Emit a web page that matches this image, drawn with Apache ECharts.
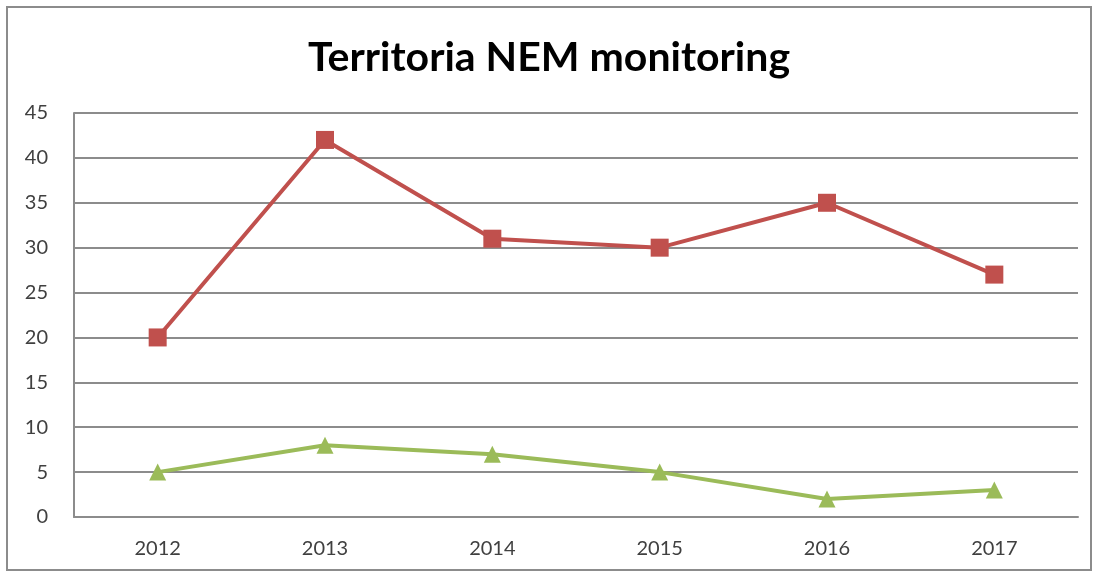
<!DOCTYPE html>
<html>
<head>
<meta charset="utf-8">
<script src="https://cdn.jsdelivr.net/npm/echarts@6/dist/echarts.min.js"></script>
<style>
  html, body { margin: 0; padding: 0; background: #fff; }
  .nemChart {
    position: absolute;
    left: 6px;
    top: 6px;
    width: 1086px;
    height: 565px;
    border: 2px solid #8c8c8c;
    box-sizing: border-box;
  }
</style>
</head>
<body>
<div class="nemChart" id="nemChart"></div>
<script>
const years = ['2012', '2013', '2014', '2015', '2016', '2017'];
const redValues = [20, 42, 31, 30, 35, 27];
const greenValues = [5, 8, 7, 5, 2, 3];

const nemChart = echarts.init(document.getElementById('nemChart'));
nemChart.setOption({
  animation: false,
  title: {
    text: 'Territoria NEM monitoring',
    left: 'center',
    top: 24,
    textStyle: {
      fontFamily: 'Lato',
      fontSize: 41,
      fontWeight: 'bold',
      color: '#000'
    }
  },
  grid: {
    left: 66,
    right: 12,
    top: 105,
    bottom: 52
  },
  xAxis: {
    type: 'category',
    data: years,
    boundaryGap: true,
    axisLine: { show: true, lineStyle: { color: '#8c8c8c', width: 2 } },
    axisTick: { show: false },
    axisLabel: {
      color: '#404040',
      fontFamily: 'Lato',
      fontSize: 20,
      margin: 22
    }
  },
  yAxis: {
    type: 'value',
    min: 0,
    max: 45,
    interval: 5,
    axisLine: { show: true, lineStyle: { color: '#8c8c8c', width: 2 } },
    axisTick: { show: false },
    splitLine: { lineStyle: { color: '#8c8c8c', width: 2 } },
    axisLabel: {
      color: '#404040',
      fontFamily: 'Lato',
      fontSize: 20,
      margin: 26
    }
  },
  series: [
    {
      name: 'red',
      type: 'line',
      data: redValues,
      symbol: 'rect',
      symbolSize: 18,
      lineStyle: { color: '#c0504d', width: 4 },
      itemStyle: { color: '#c0504d' }
    },
    {
      name: 'green',
      type: 'line',
      data: greenValues,
      symbol: 'triangle',
      symbolSize: 17,
      lineStyle: { color: '#9bbb59', width: 4 },
      itemStyle: { color: '#9bbb59' }
    }
  ]
});
</script>
</body>
</html>
